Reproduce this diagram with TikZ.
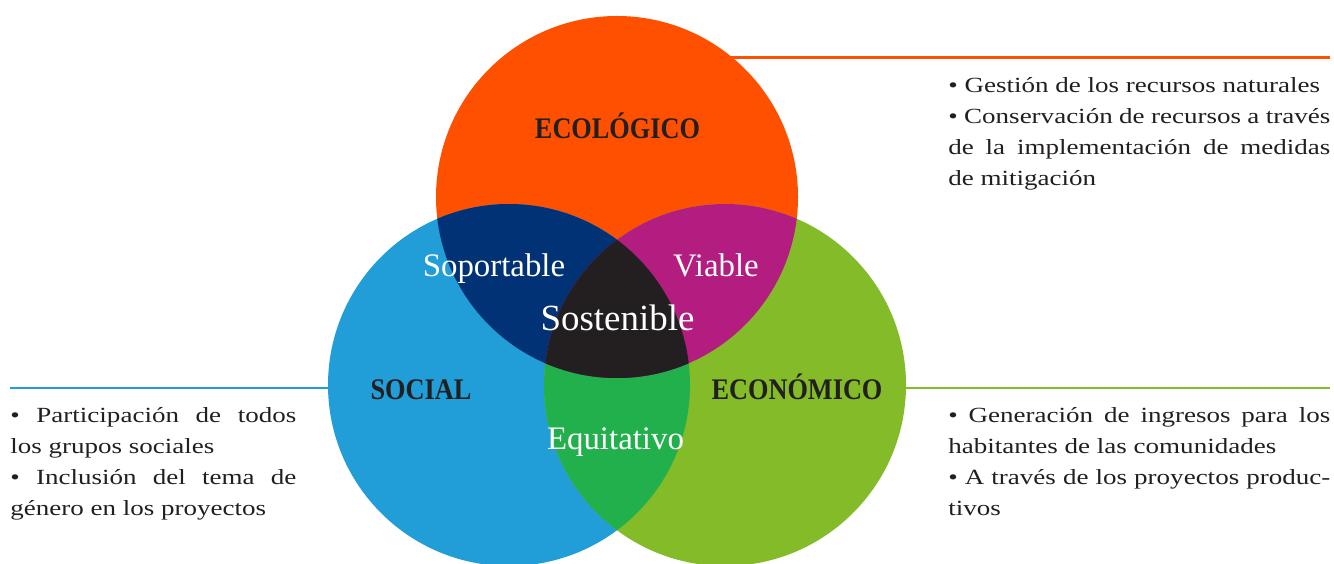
\documentclass[tikz,border=0pt]{standalone}
\usepackage{fontspec}
\setmainfont{Liberation Serif}
\newfontfamily\blockfont{Liberation Serif}[FakeStretch=1.25]
\newfontfamily\headfont{Liberation Serif}[FakeStretch=0.88]
\definecolor{ecoorange}{HTML}{FF5000}
\definecolor{socialblue}{HTML}{219DD8}
\definecolor{econgreen}{HTML}{84BB29}
\definecolor{soportblue}{HTML}{003275}
\definecolor{viablemag}{HTML}{B31D80}
\definecolor{sostblack}{HTML}{231F20}
\definecolor{equitgreen}{HTML}{21B04B}
\definecolor{textgray}{HTML}{231F20}
\newcommand\vennrad{3.62}
\tikzset{head/.style={text=textgray, font=\headfont\bfseries\fontsize{17}{20}\selectfont, inner sep=0pt, anchor=base}, zone/.style={text=white, font=\fontsize{18.7}{22}\selectfont, inner sep=0pt, anchor=base}, bullets/.style={text=textgray, align=justify, font=\blockfont\fontsize{12.3}{17.5}\selectfont, inner sep=0pt, anchor=base west}, rule/.style={line width=1.7pt}}

\begin{document}
\begin{tikzpicture}
  \useasboundingbox (0,0) rectangle (26.68,11.26);
  \fill[white] (0,0) rectangle (26.68,11.26);

  % centres
  \coordinate (eco) at (12.34,7.32);
  \coordinate (soc) at (10.18,3.56);
  \coordinate (econ) at (14.50,3.56);
  \coordinate (ecoend) at (26.60,10.10);
  \coordinate (socend) at (0.20,3.50);
  \coordinate (econend) at (26.60,3.50);

  % rules
  \draw[rule, ecoorange] (eco |- ecoend) -- (ecoend);
  \draw[rule, socialblue] (socend) -- (soc |- socend);
  \draw[rule, econgreen] (econ |- econend) -- (econend);

  % circles
  \fill[ecoorange] (eco) circle (\vennrad);
  \fill[socialblue] (soc) circle (\vennrad);
  \fill[econgreen] (econ) circle (\vennrad);
  \begin{scope}
    \clip (soc) circle (\vennrad);
    \fill[equitgreen] (econ) circle (\vennrad);
  \end{scope}
  \begin{scope}
    \clip (eco) circle (\vennrad);
    \fill[soportblue] (soc) circle (\vennrad);
    \fill[viablemag] (econ) circle (\vennrad);
    \clip (soc) circle (\vennrad);
    \fill[sostblack] (econ) circle (\vennrad);
  \end{scope}

  % labels
  \node[head] (ecolabel) at (12.35,8.48) {ECOLÓGICO};
  \node[head] (soclabel) at (8.42,3.26) {SOCIAL};
  \node[head] (econlabel) at (15.94,3.26) {ECONÓMICO};
  \node[zone] (soport) at (9.88,5.73) {Soportable};
  \node[zone] (viable) at (14.32,5.73) {Viable};
  \node[zone, font=\fontsize{21}{24}\selectfont] (sost) at (12.35,4.65) {Sostenible};
  \node[zone] (equit) at (12.31,2.26) {Equitativo};

  % texts
  \node[bullets, text width=7.64cm] (ecotext) at (18.96,9.40) {\textbullet{} Gestión de los recursos naturales\\ \textbullet{} Conservación de recursos a través\linebreak de la implementación de medidas\linebreak de mitigación};
  \node[bullets, text width=5.72cm] (soctext) at (0.20,2.80) {\textbullet{} Participación de todos\linebreak los grupos sociales\\ \textbullet{} Inclusión del tema de\linebreak género en los proyectos};
  \node[bullets, text width=7.64cm] (econtext) at (18.96,2.80) {\textbullet{} Generación de ingresos para los\linebreak habitantes de las comunidades\\ \textbullet{} A través de los proyectos produc-\linebreak tivos};
\end{tikzpicture}
\end{document}
